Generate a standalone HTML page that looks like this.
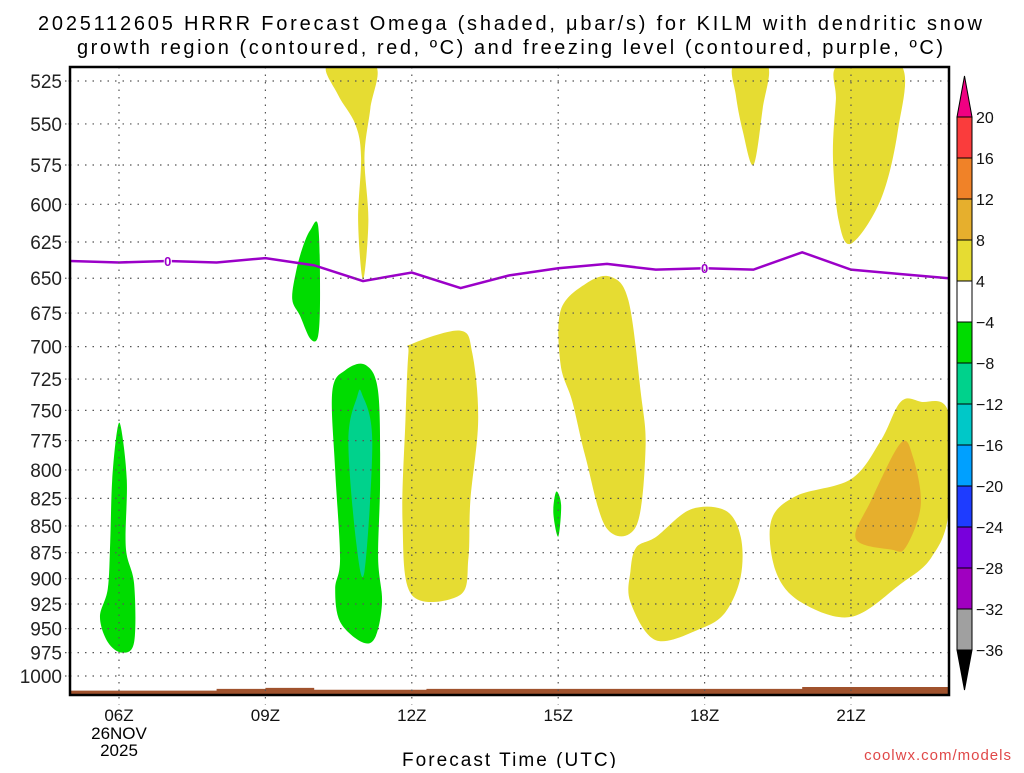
<!DOCTYPE html>
<html><head><meta charset="utf-8"><style>
body{margin:0;background:#fff;width:1024px;height:768px;overflow:hidden;font-family:"Liberation Sans",sans-serif}
svg text{font-family:"Liberation Sans","DejaVu Sans",sans-serif}
</style></head><body>
<svg id="chart" width="1024" height="768" xmlns="http://www.w3.org/2000/svg">
<text x="38" y="30" font-size="20" textLength="944" lengthAdjust="spacing">2025112605 HRRR Forecast Omega (shaded, μbar/s) for KILM with dendritic snow</text>
<text x="77" y="54" font-size="20" textLength="866" lengthAdjust="spacing">growth region (contoured, red, ºC) and freezing level (contoured, purple, ºC)</text>
<g id="plot"></g>
<text x="402" y="766" font-size="19" textLength="214" lengthAdjust="spacing">Forecast Time (UTC)</text>
<text x="1012" y="760" font-size="15" fill="#e04848" text-anchor="end" letter-spacing="1">coolwx.com/models</text>
<g id="cbar"></g>
</svg>
<script>
const pressureTicks=[525,550,575,600,625,650,675,700,725,750,775,800,825,850,875,900,925,950,975,1000];
const hourTicks=[6,9,12,15,18,21];
const hourLabels=["06Z","09Z","12Z","15Z","18Z","21Z"];
const freezeHours=[5,6,7,8,9,10,11,12,13,14,15,16,17,18,19,20,21,22,23];
const freezeP=[638,639,638,639,636,641,652,646,657,648,643,640,644,643,644,632,644,647,650];
const freezeLabelHours=[7,18];
const cbLevels=[20,16,12,8,4,-4,-8,-12,-16,-20,-24,-28,-32,-36];
const cbColors=["#fa3c3c","#f08228","#e6af2d","#e6dc32","#ffffff","#00dc00","#00d28c","#00c8c8","#00a0ff","#1e3cff","#7800dc","#a000c0","#a0a0a0"];
const yellowA_h=[10.27,11.25,11.15,11.03,11.11,11.0,10.9,10.96,10.84,10.49];
const yellowA_p=[516,516,541,570,611,651,611,570,550,533];
const yellowB_h=[18.6,19.29,19.19,19.0,18.78,18.64];
const yellowB_p=[516,516,541,575,554,533];
const yellowC_h=[20.75,22.02,21.96,21.61,21.01,20.75,20.63,20.69];
const yellowC_p=[516,516,554,597,626,611,570,536];
const yellowD_h=[12,12.99,13.24,13.36,13.2,13.16,12.99,12,11.81,11.87,11.93];
const yellowD_p=[698,688,705,758,827,880,916,916,846,758,705];
const yellowE_h=[15.05,15.56,16.07,16.44,16.69,16.79,16.6,15.99,15.56,15.29,15.05];
const yellowE_p=[673,654,649,666,735,781,850,852,789,743,714];
const yellowF_h=[16.6,17.01,17.71,18.43,18.74,18.74,18.43,17.92,17.0,16.48,16.48];
const yellowF_p=[870,860,835,836,860,898,933,950,962,923,893];
const yellowG_h=[19.36,19.87,21.0,21.61,22.02,22.43,23.0,23.0,22.64,22.02,21.0,19.97,19.46];
const yellowG_p=[846,823,808,775,743,743,752,838,880,905,938,923,893];
const orangeH_h=[21.1,21.41,22.02,22.27,22.43,22.12,21.82];
const orangeH_p=[862,827,777,789,831,870,872];
const greenA_h=[5.96,6.04,6.16,6.14,6.31,6.31,6.06,5.77,5.61,5.77,5.82,5.86];
const greenA_p=[767,764,809,870,905,964,975,964,938,910,865,809];
const greenB_h=[9.92,10.08,10.12,10.08,9.92,9.71,9.55,9.63,9.77];
const greenB_p=[617,614,660,692,694,677,665,645,628];
const greenC_h=[10.64,11.05,11.31,11.35,11.31,11.39,11.25,10.98,10.53,10.43,10.53,10.43,10.37];
const greenC_p=[718,714,735,809,880,923,959,964,943,910,880,800,735];
const greenD_h=[14.96,15.06,15.0,14.9];
const greenD_p=[819,831,860,838];
const tealC_h=[10.88,10.98,11.19,11.03,10.86,10.7];
const tealC_p=[739,737,775,893,865,775];
const groundH=[5,7.5,8,9,10,11,12,12.3,17,20,21,23.1];
const groundP=[1016,1016,1014,1013,1015,1015,1015,1014,1014,1012,1012,1013];

const X0=70,X1=949,Y0=67,Y1=695;
function xs(h){return 119+(h-6)*48.8;}
function ys(p){return 81+(Math.log(p)-Math.log(525))/(Math.log(1000)-Math.log(525))*595;}
const NS="http://www.w3.org/2000/svg";
const plot=document.getElementById('plot');
function mk(tag,attrs,parent){const e=document.createElementNS(NS,tag);for(const k in attrs)e.setAttribute(k,attrs[k]);(parent||plot).appendChild(e);return e;}
mk('defs',{}).innerHTML='<clipPath id="clip"><rect x="70" y="67" width="879" height="628"/></clipPath>';
const g=mk('g',{'clip-path':'url(#clip)'});
function smooth(pts){
 const n=pts.length;let d=`M${pts[0][0]},${pts[0][1]}`;
 for(let i=0;i<n;i++){const p0=pts[(i-1+n)%n],p1=pts[i],p2=pts[(i+1)%n],p3=pts[(i+2)%n];
  const c1=[p1[0]+(p2[0]-p0[0])/6,p1[1]+(p2[1]-p0[1])/6],c2=[p2[0]-(p3[0]-p1[0])/6,p2[1]-(p3[1]-p1[1])/6];
  d+=`C${c1[0]},${c1[1]} ${c2[0]},${c2[1]} ${p2[0]},${p2[1]}`;}
 return d+'Z';}
function blob(hs,ps,color,name){
 const pts=hs.map((h,i)=>[xs(h),ys(ps[i])]);
 const e=mk('path',{d:smooth(pts),fill:color},g);
 
 
}
blob(yellowA_h,yellowA_p,'#e6dc32','omega-4to8-area-10z');
blob(yellowB_h,yellowB_p,'#e6dc32','omega-4to8-area-19z');
blob(yellowC_h,yellowC_p,'#e6dc32','omega-4to8-area-21z-upper');
blob(yellowD_h,yellowD_p,'#e6dc32','omega-4to8-area-12z');
blob(yellowE_h,yellowE_p,'#e6dc32','omega-4to8-area-16z');
blob(yellowF_h,yellowF_p,'#e6dc32','omega-4to8-area-17z');
blob(yellowG_h,yellowG_p,'#e6dc32','omega-4to8-area-21z-lower');
blob(orangeH_h,orangeH_p,'#e6af2d','omega-8to12-area-22z');
blob(greenA_h,greenA_p,'#00dc00','omega-neg4-area-06z');
blob(greenB_h,greenB_p,'#00dc00','omega-neg4-area-10z');
blob(greenC_h,greenC_p,'#00dc00','omega-neg4-area-11z');
blob(greenD_h,greenD_p,'#00dc00','omega-neg4-area-15z');
blob(tealC_h,tealC_p,'#00d28c','omega-neg8-area-11z');
let gd=`M${xs(groundH[0])},${Y1}`;
groundH.forEach((h,i)=>{const y=ys(groundP[i]);gd+=`L${xs(h)},${y}`;if(i<groundH.length-1)gd+=`L${xs(groundH[i+1])},${y}`;});
gd+=`L${X1},${Y1}Z`;
const gr=mk('path',{d:gd,fill:'#a0522d'},g);


pressureTicks.forEach(p=>{const y=ys(p);
 const l=mk('line',{x1:X0,x2:X1,y1:y,y2:y,stroke:'#555','stroke-width':1.2,'stroke-dasharray':'1.5 6'});
 
 
 mk('line',{x1:X0-5,x2:X0,y1:y,y2:y,stroke:'#555','stroke-width':1.2,'stroke-dasharray':'1.5 2'});
 const t=mk('text',{x:62,y:y+7,'font-size':19,'text-anchor':'end',fill:'#222'});t.textContent=p;
 
 
});
hourTicks.forEach((h,i)=>{const x=xs(h);
 const l=mk('line',{x1:x,x2:x,y1:Y0,y2:Y1+10,stroke:'#555','stroke-width':1.2,'stroke-dasharray':'1.5 6'});
 
 
 const t=mk('text',{x:x,y:721,'font-size':17,'text-anchor':'middle',fill:'#111'});t.textContent=hourLabels[i];
 
 
});
const d1=mk('text',{x:xs(6),y:739,'font-size':17,'text-anchor':'middle'});d1.textContent='26NOV';


const d2=mk('text',{x:xs(6),y:756,'font-size':17,'text-anchor':'middle'});d2.textContent='2025';


const fl=mk('polyline',{points:freezeHours.map((h,i)=>xs(h)+','+ys(freezeP[i])).join(' '),fill:'none',stroke:'#9b00c8','stroke-width':2.5},g);


freezeLabelHours.forEach(h=>{const i=freezeHours.indexOf(h);const x=xs(h),y=ys(freezeP[i]);
 mk('rect',{x:x-4,y:y-6,width:8,height:12,fill:'#fff'},g);
 const t=mk('text',{x:x,y:y+5,'font-size':13,'text-anchor':'middle',fill:'#9b00c8','font-weight':'bold'},g);t.textContent='0';
 
 
});
const fr=mk('rect',{x:X0,y:Y0,width:X1-X0,height:Y1-Y0,fill:'none',stroke:'#000','stroke-width':2.5});


const cb=document.getElementById('cbar');
const CX=957,CW=15,CT=117,CH=41;
cbColors.forEach((c,i)=>{const r=mk('rect',{x:CX,y:CT+i*CH,width:CW,height:CH,fill:c,stroke:'#000','stroke-width':1},cb);
 
 });
const ta=mk('polygon',{points:`${CX},${CT} ${CX+CW},${CT} ${CX+CW/2},${76}`,fill:'#f00082',stroke:'#000'},cb);


const be=CT+cbColors.length*CH;
const ba=mk('polygon',{points:`${CX},${be} ${CX+CW},${be} ${CX+CW/2},${690}`,fill:'#000',stroke:'#000'},cb);


cbLevels.forEach((v,i)=>{const t=mk('text',{x:976,y:CT+i*CH+6,'font-size':16,fill:'#111'},cb);
 t.textContent=v<0?'\u2212'+(-v):String(v);
 
 });
</script>
</body></html>
